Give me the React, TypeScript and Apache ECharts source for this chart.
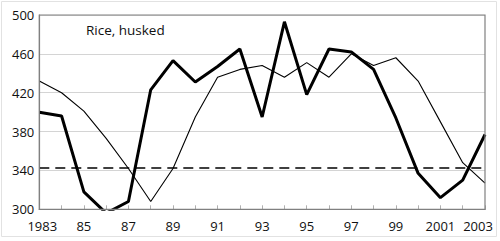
import React, { useEffect, useRef } from "react";
import * as echarts from "echarts";

const years = [
  "1983", "1984", "1985", "1986", "1987", "1988", "1989", "1990", "1991", "1992",
  "1993", "1994", "1995", "1996", "1997", "1998", "1999", "2000", "2001", "2002", "2003",
];
const shownLabels: Record<string, string> = {
  "1983": "1983", "1985": "85", "1987": "87", "1989": "89", "1991": "91", "1993": "93",
  "1995": "95", "1997": "97", "1999": "99", "2001": "2001", "2003": "2003",
};
const thickSeries = [400, 396, 318, 296, 308, 423, 453, 431, 447, 465, 395, 493, 418, 465, 462, 444, 394, 337, 312, 330, 377];
const thinSeries = [432, 420, 401, 373, 342, 308, 342, 395, 436, 444, 448, 436, 451, 436, 460, 448, 456, 432, 390, 348, 327];
const referenceLevel = 342.5;
const yTicks = { min: 300, max: 500, interval: 40 };
const title = "Rice, husked";

export default function App() {
  const ref = useRef<HTMLDivElement>(null);
  useEffect(() => {
    if (!ref.current) return;
    const chart = echarts.init(ref.current, null, { renderer: "svg" });
    const font = "'Open Sans', sans-serif";
    const labelStyle = { fontFamily: font, fontSize: 13, color: "#111" };
    chart.setOption({
      animation: false,
      backgroundColor: "#ffffff",
      grid: { left: 39.3, right: 15, top: 15, bottom: 31.7, show: false },
      graphic: [
        {
          type: "rect",
          shape: { x: 1.5, y: 1.5, width: 495, height: 235 },
          style: { fill: "none", stroke: "#e2e2e2", lineWidth: 1 },
          silent: true,
        },
        {
          type: "rect",
          shape: { x: 39.3, y: 15, width: 445.7, height: 194.3 },
          style: { fill: "none", stroke: "#808080", lineWidth: 1.2 },
          silent: true,
          z: 10,
        },
        {
          type: "text",
          left: 86,
          top: 23,
          style: { text: title, font: `13.5px ${font}`, fill: "#111" },
          z: 20,
        },
      ],
      xAxis: {
        type: "category",
        data: years,
        boundaryGap: false,
        axisLine: { show: true, lineStyle: { color: "#808080", width: 1.2 } },
        axisTick: { show: true, inside: true, length: 4, interval: 0, lineStyle: { color: "#b0b0b0" } },
        axisLabel: {
          interval: 0,
          ...labelStyle,
          margin: 10,
          formatter: (v: string) => {
            const s = shownLabels[v] || "";
            if (v === years[0]) return `{first|${s}}`;
            if (v === years[years.length - 1]) return `{last|${s}}`;
            return s;
          },
          rich: {
            first: { ...labelStyle, padding: [0, 0, 0, 6] },
            last: { ...labelStyle, padding: [0, 14, 0, 0] },
          },
        },
        splitLine: { show: false },
      },
      yAxis: {
        type: "value",
        min: yTicks.min,
        max: yTicks.max,
        interval: yTicks.interval,
        axisLine: { show: true, lineStyle: { color: "#808080", width: 1.2 } },
        axisTick: { show: false },
        axisLabel: { ...labelStyle, margin: 5 },
        splitLine: { show: true, lineStyle: { color: "#d4d4d4", width: 1 } },
      },
      series: [
        {
          type: "line",
          data: thinSeries,
          symbol: "none",
          lineStyle: { color: "#000", width: 1.1 },
          z: 3,
        },
        {
          type: "line",
          data: thickSeries,
          symbol: "none",
          clip: true,
          lineStyle: { color: "#000", width: 3 },
          z: 4,
          markLine: {
            silent: true,
            symbol: "none",
            label: { show: false },
            lineStyle: { color: "#000", width: 1.6, type: [10, 6] },
            data: [{ yAxis: referenceLevel }],
          },
        },
      ],
    });
    return () => chart.dispose();
  }, []);
  return (
    <div
      ref={ref}
      style={{ position: "fixed", left: 0, top: 0, width: 500, height: 241 }}
    />
  );
}
